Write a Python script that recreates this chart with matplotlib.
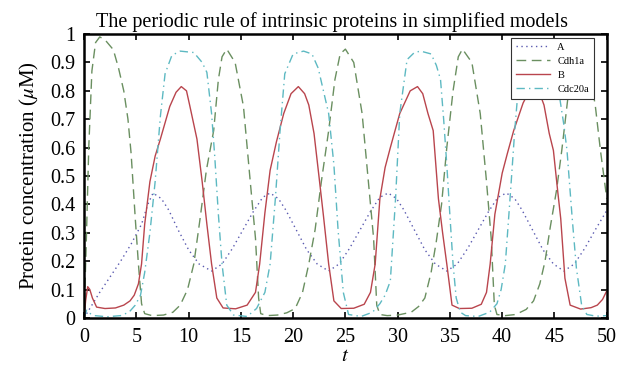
import matplotlib
matplotlib.use("Agg")
import matplotlib.pyplot as plt
from matplotlib.ticker import FuncFormatter

plt.rcParams['font.family'] = ['Liberation Serif', 'DejaVu Serif']
plt.rcParams['mathtext.fontset'] = 'stix'

# values
t_a = [0, 0.5, 1.5, 2.5, 3.5, 4.5, 5.5, 6.1, 6.6, 7.4, 8.1, 9.0, 10.0, 11.0, 12.2,
       13.2, 14.2, 15.2, 16.2, 17.1, 17.8, 18.6, 19.3, 20.3, 21.3, 22.3, 23.4,
       24.4, 25.4, 26.4, 27.4, 28.3, 29.1, 29.9, 30.6, 31.6, 32.6, 33.6, 34.7,
       35.7, 36.7, 37.7, 38.7, 39.6, 40.4, 41.2, 41.9, 42.9, 43.9, 44.9, 45.9,
       46.9, 47.9, 48.9, 50.0]
a = [0, 0.03, 0.09, 0.145, 0.2, 0.26, 0.33, 0.40, 0.44, 0.42, 0.38, 0.31, 0.24, 0.19, 0.165,
     0.19, 0.245, 0.31, 0.375, 0.425, 0.44, 0.42, 0.38, 0.31, 0.24, 0.19, 0.165,
     0.19, 0.245, 0.31, 0.375, 0.425, 0.44, 0.42, 0.38, 0.31, 0.24, 0.19, 0.165,
     0.19, 0.245, 0.31, 0.375, 0.425, 0.44, 0.42, 0.38, 0.31, 0.24, 0.19, 0.165,
     0.19, 0.245, 0.31, 0.378]

t_cdh = [0, 0.2, 0.45, 0.75, 1.1, 1.5, 2.0, 2.8, 3.3, 3.8, 4.2, 4.5, 4.9, 5.2, 5.5, 5.8,
         6.5, 7.6, 8.5, 9.2, 9.9, 10.5, 11.1, 11.7, 12.4, 12.85, 13.2, 13.65, 14.45,
         15.25, 15.9, 16.4, 16.7, 16.9, 17.5, 18.5, 19.4, 20.2, 20.9, 21.5, 22.1, 22.7,
         23.4, 24.0, 24.5, 25.0, 25.8, 26.6, 27.2, 27.7, 28.0, 28.3, 29.0, 30.0, 31.3,
         32.0, 32.6, 33.2, 33.7, 34.2, 34.7, 35.3, 35.8, 36.2, 37.1, 37.9, 38.5, 38.95,
         39.25, 39.5, 40.3, 41.3, 42.3, 43.0, 43.6, 44.1, 44.6, 45.2, 45.7, 46.3, 46.8,
         47.4, 48.2, 48.9, 49.4, 49.9, 50.0]
cdh1a = [0, 0.25, 0.6, 0.87, 0.97, 0.99, 0.98, 0.945, 0.88, 0.80, 0.70, 0.58, 0.35, 0.19,
         0.05, 0.015, 0.008, 0.01, 0.02, 0.045, 0.10, 0.19, 0.35, 0.52, 0.66, 0.84, 0.92,
         0.947, 0.90, 0.745, 0.48, 0.28, 0.07, 0.015, 0.008, 0.01, 0.018, 0.033, 0.09,
         0.19, 0.31, 0.48, 0.66, 0.84, 0.93, 0.947, 0.90, 0.72, 0.48, 0.28, 0.045, 0.012,
         0.008, 0.01, 0.02, 0.04, 0.07, 0.16, 0.27, 0.40, 0.60, 0.80, 0.92, 0.947, 0.90,
         0.72, 0.48, 0.28, 0.045, 0.012, 0.008, 0.012, 0.03, 0.06, 0.12, 0.2, 0.32, 0.45,
         0.59, 0.78, 0.90, 0.947, 0.90, 0.75, 0.59, 0.45, 0.42]

t_b = [0, 0.15, 0.35, 0.55, 0.8, 1.2, 2.0, 3.0, 3.8, 4.4, 4.8, 5.2, 5.5, 5.8, 6.3, 6.8,
       7.3, 8.2, 8.8, 9.3, 9.8, 10.1, 10.8, 11.3, 11.75, 12.2, 12.7, 13.3, 14.5, 15.6,
       16.4, 16.8, 17.3, 17.8, 18.4, 19.1, 19.8, 20.5, 21.1, 21.5, 22.0, 22.5, 22.9,
       23.4, 23.9, 24.6, 25.8, 26.8, 27.4, 27.85, 28.3, 28.8, 29.3, 30.2, 31.2, 31.9,
       32.4, 32.9, 33.4, 33.9, 34.3, 34.7, 35.2, 35.9, 37.1, 38.0, 38.5, 38.85, 39.3,
       40.0, 40.5, 41.1, 42.0, 42.6, 43.1, 43.6, 44.0, 44.5, 44.9, 45.3, 45.6, 46.0,
       46.5, 47.5, 48.5, 49.1, 49.6, 50.0]
b = [0, 0.06, 0.11, 0.10, 0.07, 0.038, 0.033, 0.035, 0.045, 0.06, 0.08, 0.12, 0.19, 0.33,
     0.48, 0.57, 0.63, 0.745, 0.795, 0.815, 0.80, 0.75, 0.63, 0.48, 0.33, 0.19, 0.07,
     0.035, 0.032, 0.045, 0.09, 0.19, 0.37, 0.52, 0.62, 0.72, 0.79, 0.815, 0.79, 0.75,
     0.65, 0.49, 0.36, 0.19, 0.06, 0.033, 0.034, 0.048, 0.09, 0.19, 0.42, 0.53, 0.60,
     0.72, 0.80, 0.815, 0.79, 0.72, 0.66, 0.42, 0.30, 0.19, 0.045, 0.033, 0.034, 0.048,
     0.09, 0.19, 0.365, 0.51, 0.58, 0.66, 0.757, 0.80, 0.815, 0.79, 0.75, 0.65, 0.59,
     0.45, 0.35, 0.14, 0.045, 0.031, 0.036, 0.045, 0.065, 0.095]

t_cdc = [0, 0.25, 0.6, 1.0, 2.2, 3.5, 4.3, 4.9, 5.4, 5.8, 6.3, 6.8, 7.3, 7.75, 8.4, 9.2,
         10.5, 11.3, 11.75, 12.2, 12.5, 12.85, 13.2, 13.65, 14.3, 15.6, 16.5, 17.3, 17.8,
         18.3, 18.75, 19.2, 20.0, 21.0, 21.8, 22.4, 22.9, 23.4, 23.9, 24.3, 24.8, 25.3,
         26.5, 27.6, 28.3, 28.8, 29.3, 29.8, 30.2, 30.9, 31.6, 32.2, 33.2, 33.7, 34.1,
         34.4, 34.7, 35.0, 35.3, 35.6, 36.0, 36.5, 37.7, 38.8, 39.5, 39.9, 40.3, 40.75,
         41.2, 41.65, 42.4, 43.4, 44.3, 44.9, 45.4, 45.9, 46.2, 46.7, 47.1, 47.6, 48.1,
         49.0, 50.0]
cdc20a = [0, 0.027, 0.015, 0.008, 0.004, 0.008, 0.02, 0.045, 0.08, 0.16, 0.3, 0.48, 0.71,
          0.86, 0.925, 0.94, 0.935, 0.90, 0.865, 0.72, 0.57, 0.365, 0.19, 0.045, 0.01,
          0.005, 0.033, 0.09, 0.19, 0.42, 0.66, 0.86, 0.93, 0.94, 0.93, 0.88, 0.80, 0.72,
          0.54, 0.31, 0.09, 0.012, 0.005, 0.02, 0.05, 0.08, 0.13, 0.42, 0.72, 0.91, 0.935,
          0.94, 0.93, 0.89, 0.84, 0.70, 0.54, 0.36, 0.19, 0.07, 0.02, 0.008, 0.005, 0.02,
          0.05, 0.10, 0.19, 0.42, 0.66, 0.86, 0.93, 0.94, 0.93, 0.88, 0.80, 0.68, 0.59,
          0.35, 0.175, 0.045, 0.012, 0.006, 0.008]

fig = plt.figure(figsize=(6.32, 3.83), dpi=100)
ax = fig.add_axes([0.133, 0.170, 0.827, 0.741])

ax.plot(t_a, a, color='#5a5ab0', linestyle=(0, (1, 2.5)), linewidth=1.0, label='A')
ax.plot(t_cdh, cdh1a, color='#6a8f60', linestyle=(0, (7, 4)), linewidth=1.0, label='Cdh1a')
ax.plot(t_b, b, color='#b9454d', linestyle='-', linewidth=1.0, label='B')
ax.plot(t_cdc, cdc20a, color='#5db9c2', linestyle=(0, (6, 3, 1, 3)), linewidth=1.0, label='Cdc20a')

ax.set_xlim(0, 50)
ax.set_ylim(0, 1)
ax.set_xticks(range(0, 51, 5))
ax.set_yticks([i / 10 for i in range(11)])
ax.yaxis.set_major_formatter(FuncFormatter(lambda v, p: f"{v:g}"))
ax.tick_params(direction='in', top=True, right=True, length=4, width=1.2,
               labelsize=14.5)
ax.tick_params(axis='x', pad=7)
ax.tick_params(axis='y', pad=6)
for s in ax.spines.values():
    s.set_linewidth(1.8)

ax.set_title("The periodic rule of intrinsic proteins in simplified models",
             fontsize=14.5, pad=5, x=0.474)
ax.set_xlabel("$t$", fontsize=15, labelpad=0)
ax.set_ylabel(r"Protein concentration ($\mu$M)", fontsize=15, labelpad=7)

leg = ax.legend(loc='upper right', fontsize=7.5, handlelength=3.3, borderpad=0.45,
                labelspacing=0.45, fancybox=False, framealpha=1,
                bbox_to_anchor=(0.985, 1.004), handletextpad=0.7)
leg.get_frame().set_edgecolor('#333333')
leg.get_frame().set_linewidth(0.8)

fig.savefig("out.png", dpi=100)
